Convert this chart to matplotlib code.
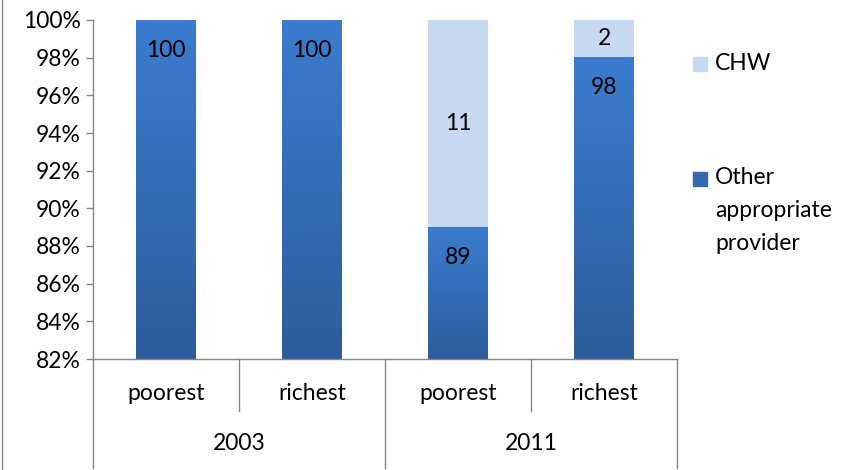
import numpy as np
import matplotlib
matplotlib.use("Agg")
import matplotlib.pyplot as plt
from matplotlib.patches import Rectangle
from matplotlib.colors import LinearSegmentedColormap
import matplotlib.transforms as mtransforms

plt.rcParams["font.family"] = ["Lato", "DejaVu Sans"]

years = ["2003", "2011"]
groups = ["poorest", "richest", "poorest", "richest"]
other = [100, 100, 89, 98]
chw = [0, 0, 11, 2]

GRID = "#868686"
CHW_COLOR = "#C6D9F1"
FS = 16.5
blue_grad = LinearSegmentedColormap.from_list("bg", ["#2D5C9A", "#3B7CCF"])

fig = plt.figure(figsize=(8.46, 4.70), dpi=100)
ax = fig.add_axes([93 / 846, 1 - 359 / 470, (677 - 93) / 846, (359 - 20) / 470])

x = np.arange(len(groups))
width = 0.405

bars_other = ax.bar(x, other, width, color="#3569B0", zorder=2)
bars_chw = ax.bar(x, chw, width, bottom=other, color=CHW_COLOR, zorder=2)

# vertical gradient on the dark bars (dark bottom -> lighter top)
grad = np.linspace(0, 1, 256).reshape(-1, 1)
for b in bars_other:
    x0 = b.get_x()
    ax.imshow(grad, cmap=blue_grad, aspect="auto", origin="lower",
              extent=(x0, x0 + b.get_width(), 82, b.get_height()),
              zorder=2.5)
ax.set_xlim(-0.5, len(groups) - 0.5)
ax.set_ylim(82, 100)

# data labels
for i, (o, c) in enumerate(zip(other, chw)):
    ax.text(i, o - 1.6, f"{o}", ha="center", va="center", fontsize=FS, zorder=4)
    if c > 0:
        ax.text(i, o + c / 2, f"{c}", ha="center", va="center", fontsize=FS, zorder=4)

ax.set_yticks(np.arange(82, 101, 2))
ax.set_yticklabels([f"{v}%" for v in range(82, 101, 2)], fontsize=FS)
ax.tick_params(axis="y", length=5, color=GRID, width=1, pad=4)
ax.tick_params(axis="x", length=0, labelbottom=False)

for s in ["top", "right"]:
    ax.spines[s].set_visible(False)
for s in ["left", "bottom"]:
    ax.spines[s].set_color(GRID)
    ax.spines[s].set_linewidth(1)

# multi-level category axis
trans = mtransforms.blended_transform_factory(ax.transData, fig.transFigure)
for i, g in enumerate(groups):
    ax.text(i, 1 - 393 / 470, g, transform=trans, ha="center", va="center", fontsize=FS)
for j, yr in enumerate(years):
    ax.text(2 * j + 0.5, 1 - 443 / 470, yr, transform=trans, ha="center", va="center", fontsize=FS)

for b in [-0.5, 1.5, 3.5]:
    ax.plot([b, b], [1 - 359 / 470, 1 - 468 / 470], transform=trans, color=GRID,
            lw=1, clip_on=False)
for b in [0.5, 2.5]:
    ax.plot([b, b], [1 - 359 / 470, 1 - 411 / 470], transform=trans, color=GRID,
            lw=1, clip_on=False)

# chart frame on the left edge
fig.add_artist(plt.Line2D([1.5 / 846, 1.5 / 846], [0, 1], color=GRID, lw=1))

# legend
fig.add_artist(Rectangle((693 / 846, 1 - 71 / 470), 14 / 846, 14 / 470,
                         transform=fig.transFigure, color=CHW_COLOR))
fig.text(715 / 846, 1 - 63 / 470, "CHW", ha="left", va="center", fontsize=FS)
fig.add_artist(Rectangle((693 / 846, 1 - 186 / 470), 14 / 846, 14 / 470,
                         transform=fig.transFigure, color="#3569B0"))
fig.text(715 / 846, 1 - 167 / 470, "Other\nappropriate\nprovider", ha="left", va="top",
         fontsize=FS, linespacing=1.7)

fig.savefig("out.png", dpi=100)
